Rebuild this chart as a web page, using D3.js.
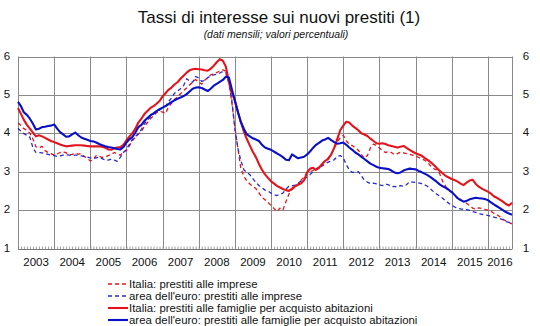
<!DOCTYPE html>
<html><head><meta charset="utf-8">
<script src="https://cdn.jsdelivr.net/npm/d3@7"></script>
<style>html,body{margin:0;padding:0;background:#fff;}svg{display:block;}</style>
</head><body>
<svg id="chart" width="540" height="326"></svg>
<script>
// ---- DATA (monthly, Jan 2003 – Sep 2016) ----
const startMonth = "2003-01";
const yearLabels = ["2003","2004","2005","2006","2007","2008","2009","2010","2011","2012","2013","2014","2015","2016"];
const yTicks = [1,2,3,4,5,6];
const seriesNames = [
  "Italia: prestiti alle imprese",
  "area dell'euro: prestiti alle imprese",
  "Italia: prestiti alle famiglie per acquisto abitazioni",
  "area dell'euro: prestiti alle famiglie per acquisto abitazioni"
];
const italiaImprese = [
 4.27,4.20,4.12,4.08,4.00,3.85,3.65,3.62,3.66,3.55,3.50,3.47,
 3.43,3.46,3.50,3.52,3.49,3.44,3.45,3.48,3.46,3.47,3.40,3.35,
 3.28,3.32,3.42,3.40,3.37,3.39,3.42,3.45,3.50,3.46,3.43,3.52,
 3.55,3.68,3.80,3.90,3.98,4.05,4.18,4.28,4.38,4.46,4.54,4.58,
 4.55,4.52,4.68,4.78,4.88,4.95,5.03,5.11,5.18,5.26,5.33,5.40,
 5.33,5.28,5.38,5.45,5.52,5.55,5.58,5.62,5.65,5.62,5.35,4.80,
 4.15,3.60,3.10,2.88,2.76,2.68,2.62,2.56,2.45,2.33,2.27,2.20,
 2.12,2.04,1.96,2.05,2.00,2.22,2.42,2.54,2.60,2.68,2.78,2.86,
 2.98,3.00,3.03,3.08,3.12,3.20,3.28,3.36,3.45,3.60,3.78,3.88,
 3.95,3.80,3.72,3.68,3.62,3.56,3.45,3.35,3.42,3.62,3.72,3.68,
 3.62,3.55,3.50,3.52,3.50,3.44,3.47,3.51,3.49,3.47,3.45,3.43,
 3.41,3.37,3.34,3.30,3.25,3.15,3.08,3.05,2.95,2.75,2.62,2.52,
 2.45,2.38,2.33,2.28,2.22,2.17,2.12,2.05,2.02,2.06,2.04,2.02,
 2.00,1.97,1.92,1.88,1.83,1.76,1.72,1.68,1.64];
const euroImprese = [
 4.13,4.05,3.99,3.95,3.90,3.62,3.50,3.50,3.49,3.47,3.45,3.43,
 3.42,3.40,3.41,3.43,3.44,3.43,3.42,3.43,3.43,3.41,3.39,3.38,
 3.36,3.34,3.36,3.38,3.34,3.30,3.30,3.33,3.30,3.27,3.38,3.50,
 3.58,3.72,3.84,3.92,3.98,4.10,4.25,4.34,4.43,4.50,4.55,4.60,
 4.66,4.71,4.82,4.92,5.04,5.10,5.16,5.24,5.42,5.36,5.33,5.48,
 5.44,5.35,5.38,5.45,5.49,5.52,5.54,5.57,5.61,5.58,5.30,4.85,
 4.10,3.60,3.30,3.05,2.98,2.92,2.82,2.72,2.64,2.58,2.52,2.50,
 2.44,2.40,2.38,2.41,2.44,2.55,2.62,2.63,2.65,2.70,2.76,2.80,
 2.86,2.93,3.00,3.07,3.11,3.15,3.20,3.25,3.28,3.31,3.40,3.42,
 3.36,3.18,3.05,2.98,2.99,3.00,2.90,2.78,2.73,2.69,2.70,2.68,
 2.66,2.64,2.68,2.66,2.61,2.62,2.60,2.64,2.62,2.66,2.74,2.73,
 2.72,2.71,2.69,2.66,2.62,2.55,2.48,2.42,2.36,2.31,2.24,2.18,
 2.12,2.08,2.05,2.03,2.02,2.01,1.99,1.96,1.94,1.91,1.89,1.88,
 1.86,1.84,1.82,1.80,1.78,1.75,1.70,1.68,1.65];
const italiaFamiglie = [
 4.66,4.50,4.35,4.22,4.12,4.02,3.92,3.95,3.92,3.88,3.84,3.80,
 3.77,3.74,3.71,3.68,3.66,3.67,3.68,3.69,3.69,3.69,3.68,3.67,
 3.66,3.66,3.66,3.66,3.65,3.62,3.58,3.57,3.61,3.63,3.64,3.70,
 3.82,3.92,4.00,4.12,4.28,4.38,4.50,4.58,4.66,4.71,4.77,4.84,
 4.96,5.05,5.13,5.19,5.27,5.33,5.42,5.50,5.58,5.64,5.67,5.68,
 5.67,5.66,5.64,5.63,5.68,5.76,5.85,5.93,5.89,5.74,5.35,5.05,
 4.85,4.55,4.30,4.05,3.85,3.68,3.52,3.38,3.20,3.05,2.93,2.84,
 2.75,2.69,2.63,2.59,2.55,2.52,2.50,2.56,2.62,2.66,2.70,2.78,
 2.98,3.08,3.10,3.05,3.10,3.20,3.28,3.33,3.45,3.62,3.85,4.08,
 4.20,4.30,4.28,4.20,4.14,4.08,4.00,3.97,3.93,3.86,3.80,3.74,
 3.73,3.74,3.72,3.69,3.67,3.65,3.63,3.65,3.67,3.62,3.57,3.52,
 3.48,3.45,3.42,3.36,3.31,3.25,3.18,3.10,3.02,2.96,2.89,2.85,
 2.81,2.78,2.74,2.69,2.65,2.72,2.77,2.79,2.68,2.61,2.56,2.52,
 2.48,2.43,2.36,2.32,2.27,2.22,2.16,2.12,2.19];
const euroFamiglie = [
 4.82,4.70,4.55,4.48,4.38,4.25,4.10,4.12,4.16,4.17,4.19,4.20,
 4.23,4.12,4.03,3.97,3.91,3.92,3.97,4.02,3.95,3.89,3.86,3.83,
 3.80,3.79,3.76,3.72,3.69,3.66,3.64,3.63,3.61,3.59,3.58,3.64,
 3.76,3.85,3.90,4.02,4.16,4.22,4.32,4.40,4.47,4.52,4.58,4.63,
 4.67,4.71,4.76,4.81,4.86,4.90,4.93,4.97,5.02,5.09,5.16,5.19,
 5.20,5.18,5.14,5.10,5.16,5.24,5.29,5.34,5.39,5.47,5.45,5.15,
 4.85,4.55,4.30,4.12,3.97,3.92,3.87,3.84,3.80,3.70,3.63,3.60,
 3.57,3.52,3.48,3.43,3.38,3.31,3.30,3.45,3.40,3.35,3.37,3.39,
 3.45,3.53,3.62,3.70,3.75,3.81,3.84,3.88,3.82,3.77,3.73,3.74,
 3.76,3.70,3.63,3.57,3.50,3.45,3.39,3.33,3.27,3.21,3.17,3.13,
 3.10,3.09,3.08,3.07,3.03,2.98,2.96,2.98,3.03,3.06,3.08,3.07,
 3.06,3.02,2.99,2.95,2.91,2.86,2.80,2.74,2.67,2.62,2.58,2.53,
 2.47,2.39,2.31,2.26,2.22,2.24,2.28,2.30,2.32,2.31,2.30,2.29,
 2.26,2.20,2.15,2.10,2.05,2.00,1.95,1.91,1.88];
const seriesColors = ["#e3141c","#2a2ad0","#e3141c","#0a10c8"];
const seriesDashed = [true,true,false,false];

// ---- CHART ----
const svg = d3.select("#chart");
const parse = d3.timeParse("%Y-%m");
const t0 = parse(startMonth);
const allSeries = [italiaImprese, euroImprese, italiaFamiglie, euroFamiglie];
const nMonths = italiaImprese.length;
const dates = d3.range(nMonths).map(i => d3.timeMonth.offset(t0, i));

const x = d3.scaleTime().domain([t0, dates[nMonths-1]]).range([18, 512]);
const y = d3.scaleLinear().domain([1, 6]).range([248.5, 56.5]);

const font = "'Liberation Sans', Arial, Helvetica, sans-serif";

// Title
svg.append("text").attr("x", 279).attr("y", 23).attr("text-anchor", "middle")
  .style("font-family", font).style("font-size", "17px").attr("fill", "#111")
  .text("Tassi di interesse sui nuovi prestiti (1)");
svg.append("text").attr("x", 276).attr("y", 38).attr("text-anchor", "middle")
  .style("font-family", font).style("font-size", "10.5px").style("font-style", "italic").attr("fill", "#111")
  .text("(dati mensili; valori percentuali)");

// Horizontal gridlines
const g = svg.append("g");
g.selectAll("line.h").data(yTicks.filter(v => v > 1)).join("line")
  .attr("x1", 18).attr("x2", 512)
  .attr("y1", d => Math.round(y(d)) + 0.5).attr("y2", d => Math.round(y(d)) + 0.5)
  .attr("stroke", "#8a8a8a").attr("stroke-width", 1);

// Vertical year gridlines (incl. left and right frame)
const yearStarts = yearLabels.map(s => parse(s + "-01"));
const vlines = yearStarts.concat([x.domain()[1]]);
g.selectAll("line.v").data(vlines).join("line")
  .attr("x1", d => Math.round(x(d)) + 0.5).attr("x2", d => Math.round(x(d)) + 0.5)
  .attr("y1", y(6)).attr("y2", y(1))
  .attr("stroke", "#8a8a8a").attr("stroke-width", 1);

// Bottom axis with monthly minor ticks
const axisG = svg.append("g").attr("transform", `translate(0,${Math.round(y(1)) + 0.5})`);
const xAxis = d3.axisTop(x).ticks(d3.timeMonth.every(1)).tickSize(3).tickFormat("");
axisG.call(xAxis);
axisG.select(".domain").attr("stroke", "#777").attr("d", `M18,0H512`);
axisG.selectAll(".tick line").attr("stroke", "#777").attr("stroke-width", 0.7);

// Year labels
svg.append("g").selectAll("text").data(yearLabels).join("text")
  .attr("x", (d, i) => {
    const a = parse(d + "-01");
    const b = i < yearLabels.length - 1 ? d3.timeYear.offset(a, 1) : x.domain()[1];
    return (x(a) + x(b)) / 2;
  })
  .attr("y", 266).attr("text-anchor", "middle")
  .style("font-family", font).style("font-size", "11.5px").attr("fill", "#111")
  .text(d => d);

// Y labels left and right
[7, 526].forEach(px => {
  svg.append("g").selectAll("text").data(yTicks).join("text")
    .attr("x", px).attr("y", d => y(d) + 3).attr("text-anchor", "middle")
    .style("font-family", font).style("font-size", "11.5px").attr("fill", "#111")
    .text(d => d);
});

// Lines
const line = d3.line().x((d, i) => x(dates[i])).y(d => y(d));
allSeries.forEach((s, k) => {
  svg.append("path").datum(s).attr("d", line)
    .attr("fill", "none").attr("stroke", seriesColors[k])
    .attr("stroke-width", seriesDashed[k] ? 1.3 : 2.1)
    .attr("stroke-dasharray", seriesDashed[k] ? "4,3" : null)
    .attr("stroke-linejoin", "round");
});

// Legend
const leg = svg.append("g");
seriesNames.forEach((name, k) => {
  const yy = 284 + k * 12;
  leg.append("line").attr("x1", 108).attr("x2", 128).attr("y1", yy).attr("y2", yy)
    .attr("stroke", seriesColors[k]).attr("stroke-width", seriesDashed[k] ? 1.3 : 2.1)
    .attr("stroke-dasharray", seriesDashed[k] ? "4,3" : null);
  leg.append("text").attr("x", 129).attr("y", yy + 4)
    .style("font-family", font).style("font-size", "11.4px").attr("fill", "#111")
    .text(name);
});
</script>
</body></html>
